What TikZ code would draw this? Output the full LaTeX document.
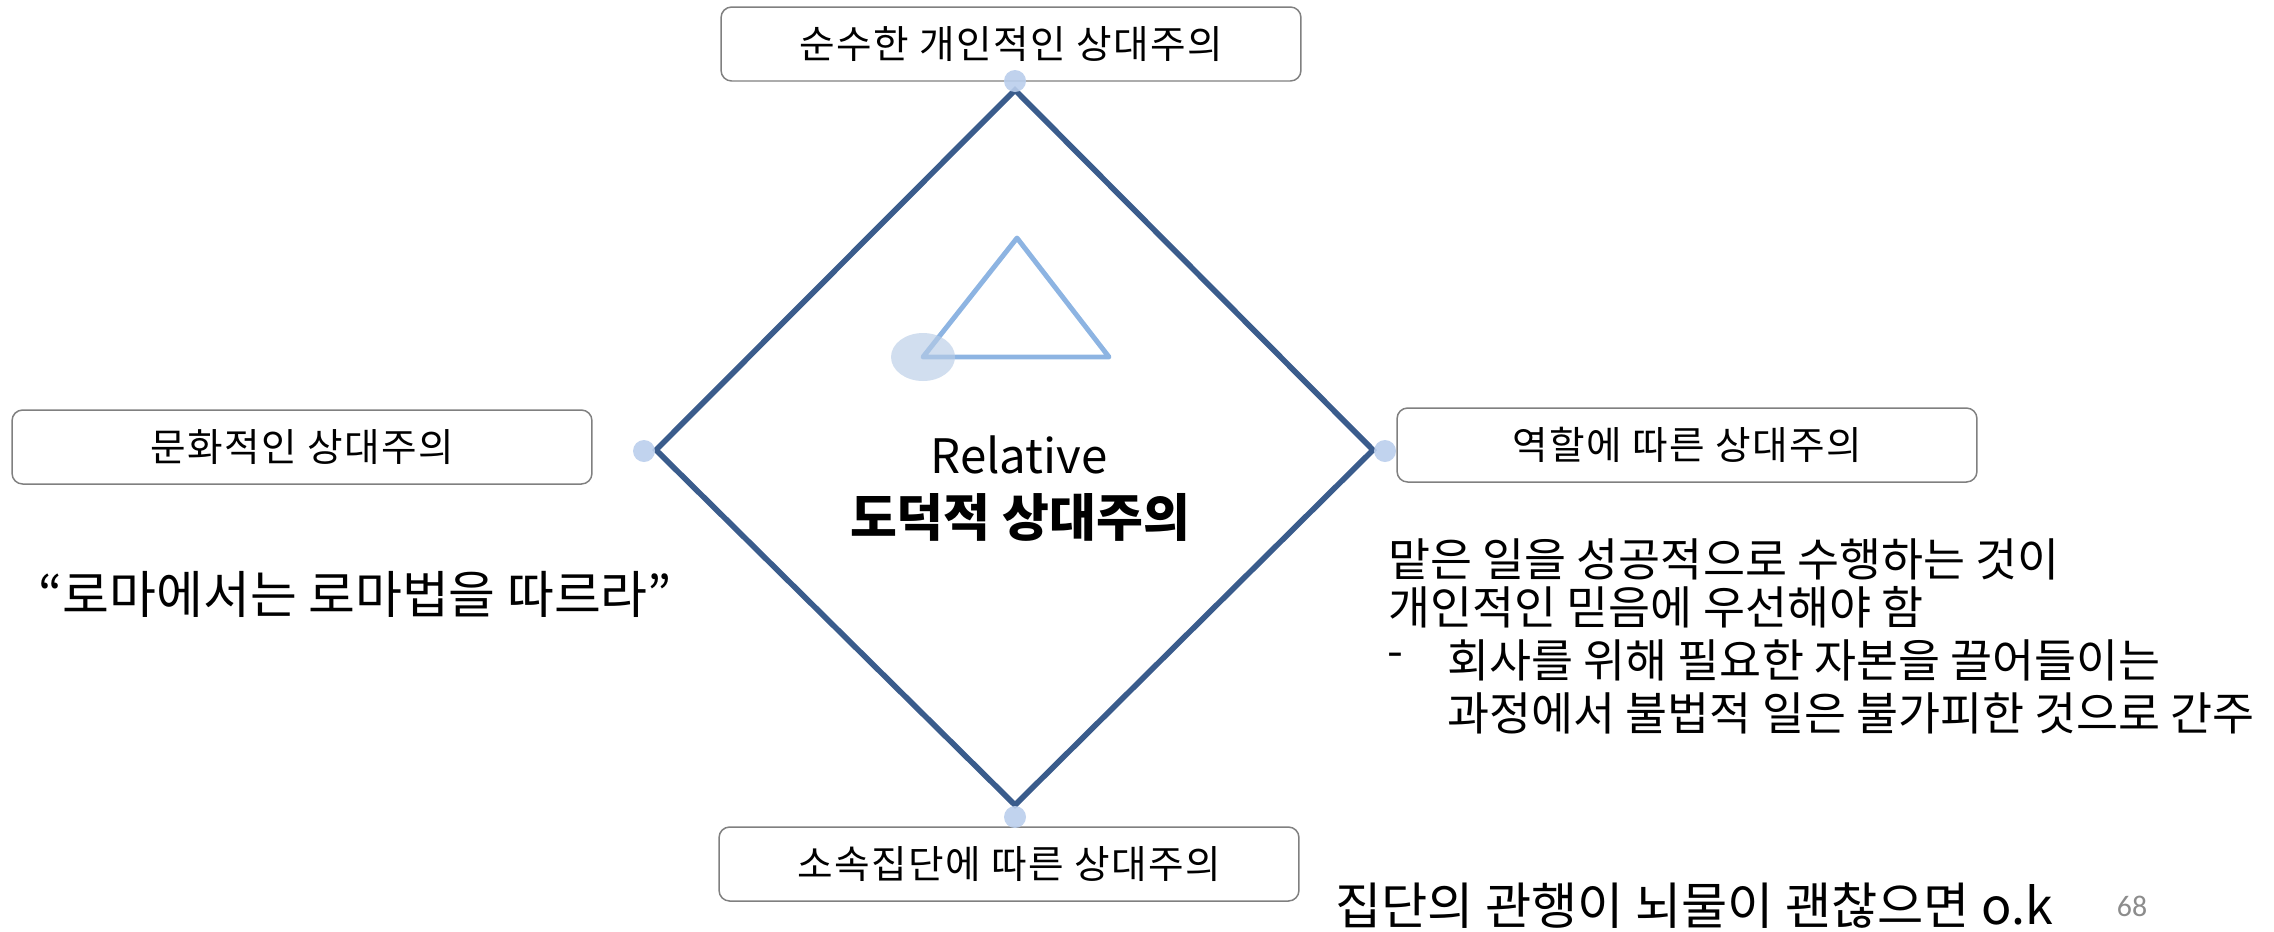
\documentclass[tikz,border=0pt]{standalone}
\usepackage{fontspec}
\setmainfont{Noto Sans CJK KR}
\newfontfamily\boxfont[LetterSpace=4]{Noto Sans CJK KR}
\newfontfamily\pagefont{Carlito}
\usetikzlibrary{positioning}
\definecolor{diamondblue}{RGB}{58,92,140}
\definecolor{triblue}{RGB}{141,180,226}
\definecolor{ellblue}{RGB}{184,204,230}
\definecolor{jointblue}{RGB}{186,206,236}
\definecolor{boxgray}{RGB}{128,128,128}
\definecolor{pagegray}{RGB}{140,140,140}
\tikzset{
  casebox/.style = {draw = boxgray, line width = 0.85pt, rounded corners = 6pt, fill = white, minimum width = 11.6cm, minimum height = 1.48cm, inner sep = 0pt, font = \boxfont\fontsize{22}{26}\selectfont},
  joint/.style = {circle, fill = jointblue, inner sep = 0pt, minimum size = 0.44cm, opacity = 0.9},
  bigtext/.style = {anchor = west, inner sep = 0pt, font = \fontsize{26}{30}\selectfont},
}
\begin{document}
\begin{tikzpicture}[x = 0.02cm, y = -0.02cm]
\useasboundingbox (0,0) rectangle (2274,931);
\coordinate (top) at (1015,90);
\coordinate (left) at (656,450);
\coordinate (right) at (1373,450);
\coordinate (bottom) at (1015,805);
\draw [color = diamondblue, line width = 3.2pt] (top) -- (right) -- (bottom) -- (left) -- cycle;
\node [casebox] (pure) at (1011,44) {순수한 개인적인 상대주의};
\node [casebox] (culture) at (302,447) {문화적인 상대주의};
\node [casebox] (role) at (1687,445) {역할에 따른 상대주의};
\node [casebox] (group) at (1009,864) {소속집단에 따른 상대주의};
\foreach \p/\x/\y in {toppin/1015/81, leftpin/644/451, rightpin/1385/451, bottompin/1015/817}
  \node [joint] (\p) at (\x,\y) {};
\coordinate (apex) at (1017,238);
\coordinate (baseL) at (923,357);
\coordinate (baseR) at (1109,357);
\draw [color = triblue, line width = 2.8pt, line join = round, line cap = round] (apex) -- (baseR) -- (baseL) -- cycle;
\fill [ellblue, opacity = 0.65] (baseL) ellipse [x radius = 0.64cm, y radius = 0.48cm];
\node [inner sep = 0pt, font = \fontsize{27}{30}\selectfont] (relative) at (1019,455) {Relative};
\node [inner sep = 0pt, font = \fontsize{29}{32}\selectfont\bfseries] (moral) at (1020,517) {도덕적 상대주의};
\node [bigtext, font = \fontsize{29}{32}\selectfont] (rome) at (38,594) {“로마에서는 로마법을 따르라”};
\node [bigtext] (duty1) at (1388,559) {맡은 일을 성공적으로 수행하는 것이};
\node [bigtext] (duty2) at (1388,607) {개인적인 믿음에 우선해야 함};
\node [bigtext] (dash) at (1387,660) {-};
\node [bigtext] (duty3) at (1447,660) {회사를 위해 필요한 자본을 끌어들이는};
\node [bigtext] (duty4) at (1447,713) {과정에서 불법적 일은 불가피한 것으로 간주};
\node [bigtext, font = \fontsize{28.6}{32}\selectfont] (bribe) at (1335,906) {집단의 관행이 뇌물이 괜찮으면 o.k};
\node [text = pagegray, inner sep = 0pt, font = \pagefont\fontsize{17}{19}\selectfont] (page) at (2132,906) {68};
\end{tikzpicture}
\end{document}
